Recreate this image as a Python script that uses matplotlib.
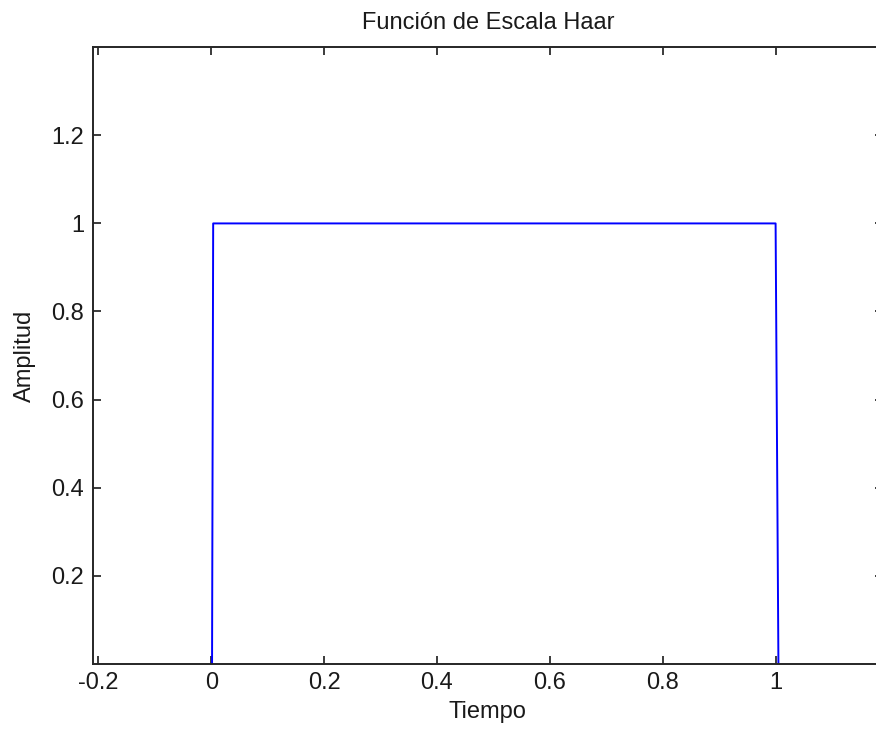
import numpy as np
import matplotlib
matplotlib.use("Agg")
import matplotlib.pyplot as plt

plt.rcParams['font.family'] = ['Liberation Sans', 'DejaVu Sans']

# Haar scaling function (steep edges at 0 and 1)
tiempo = [0.0015, 0.0035, 1.0, 1.005]
amplitud = [0.0, 1.0, 1.0, 0.0]

xticks = [-0.2, 0, 0.2, 0.4, 0.6, 0.8, 1]
xtick_labels = ['-0.2', '0', '0.2', '0.4', '0.6', '0.8', '1']
yticks = [0.2, 0.4, 0.6, 0.8, 1, 1.2]
ytick_labels = ['0.2', '0.4', '0.6', '0.8', '1', '1.2']

fig = plt.figure(figsize=(8.76, 7.29), dpi=100)
ax = fig.add_axes([0.1058, 0.0896, 0.902, 0.8455])

ax.plot(tiempo, amplitud, color='#0000ff', lw=1.4)

ax.set_xlim(-0.21, 1.19)
ax.set_ylim(0, 1.4)
ax.set_xticks(xticks)
ax.set_xticklabels(xtick_labels)
ax.set_yticks(yticks)
ax.set_yticklabels(ytick_labels)

ax.tick_params(direction='in', length=5.5, width=1.2, top=True, right=True,
               labelsize=17, colors='#1a1a1a', pad=6)
for s in ax.spines.values():
    s.set_color('#262626')
    s.set_linewidth(1.4)

ax.set_title('Función de Escala Haar', fontsize=17, pad=13, color='#1a1a1a')
ax.set_xlabel('Tiempo', fontsize=17, labelpad=5, color='#1a1a1a')
ax.set_ylabel('Amplitud', fontsize=17, labelpad=11, color='#1a1a1a')

fig.savefig('out.png', dpi=100)
